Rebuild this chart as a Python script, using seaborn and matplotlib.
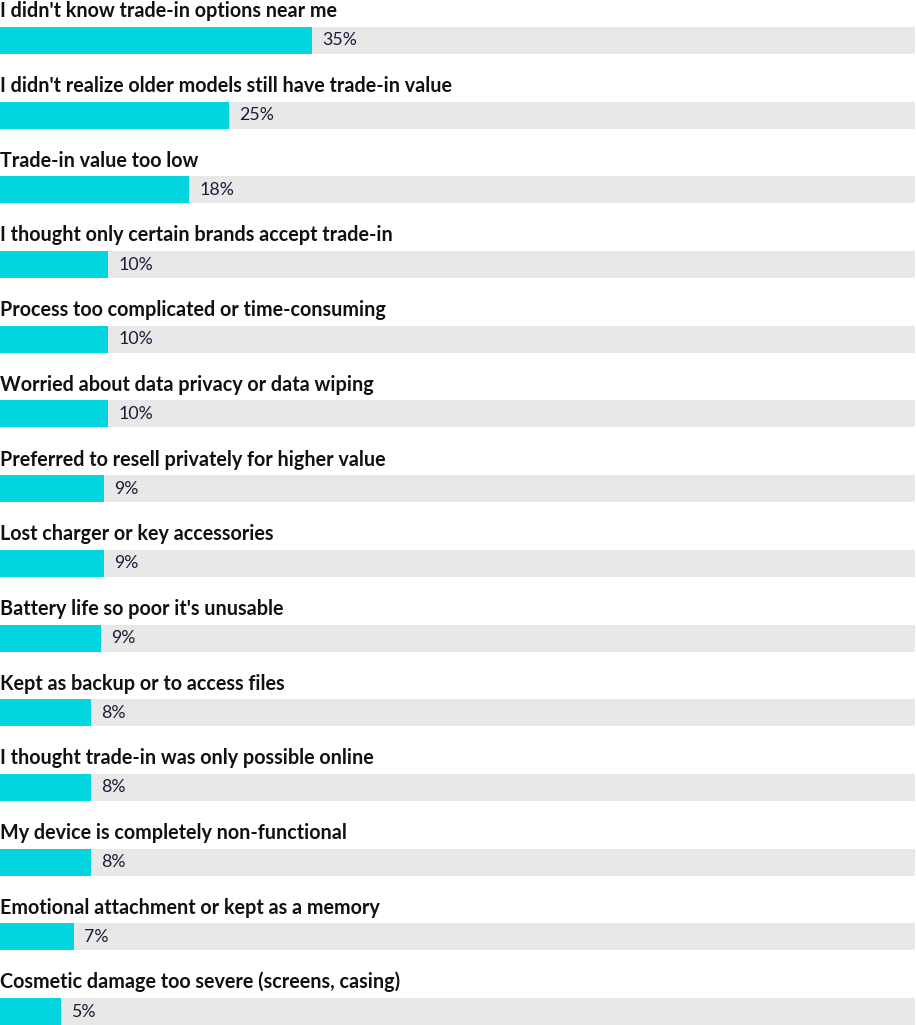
import matplotlib
matplotlib.use("Agg")
import matplotlib.pyplot as plt
import seaborn as sns
import pandas as pd

categories = [
    "I didn't know trade-in options near me",
    "I didn't realize older models still have trade-in value",
    "Trade-in value too low",
    "I thought only certain brands accept trade-in",
    "Process too complicated or time-consuming",
    "Worried about data privacy or data wiping",
    "Preferred to resell privately for higher value",
    "Lost charger or key accessories",
    "Battery life so poor it's unusable",
    "Kept as backup or to access files",
    "I thought trade-in was only possible online",
    "My device is completely non-functional",
    "Emotional attachment or kept as a memory",
    "Cosmetic damage too severe (screens, casing)",
]
# displayed percentages
pct_labels = ["35%", "25%", "18%", "10%", "10%", "10%", "9%", "9%", "9%",
              "8%", "8%", "8%", "7%", "5%"]
# bar lengths as drawn, as share of the full grey track (track = 100)
bar_share = [34.1, 25.0, 20.7, 11.8, 11.8, 11.8, 11.4, 11.4, 11.0,
             9.95, 9.95, 9.95, 8.1, 6.7]
track_max = 100

df = pd.DataFrame({"category": categories, "share": bar_share,
                   "track": [track_max] * len(categories)})

sns.set_theme(style="white")
plt.rcParams["font.family"] = ["Lato", "DejaVu Sans"]

fig = plt.figure(figsize=(9.16, 10.25), dpi=100)
ax = fig.add_axes([0, 0, 915 / 916, 1])

bar_w = 0.362
sns.barplot(data=df, x="track", y="category", orient="h", color="#e8e8e8",
            width=bar_w, ax=ax, saturation=1, linewidth=0)
sns.barplot(data=df, x="share", y="category", orient="h", color="#00d5e0",
            width=bar_w, ax=ax, saturation=1, linewidth=0)

for i, (cat, s, lab) in enumerate(zip(categories, bar_share, pct_labels)):
    ax.text(0.05, i - 0.31, cat, ha="left", va="baseline", fontsize=14.2,
            fontweight="bold", color="#111111")
    ax.text(s + 1.1, i, lab, ha="left", va="center", fontsize=12.8,
            color="#1c1b3a")

ax.set_xlim(0, track_max)
ax.set_ylim(13.18, -0.542)
ax.set_xlabel("")
ax.set_ylabel("")
ax.set_xticks([])
ax.set_yticks([])
for sp in ax.spines.values():
    sp.set_visible(False)

fig.savefig("out.png", dpi=100, facecolor="white")
